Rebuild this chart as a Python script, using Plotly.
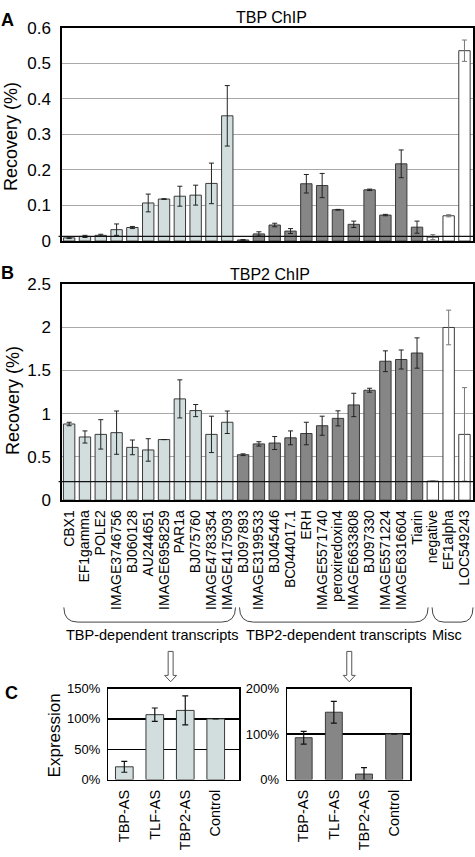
import plotly.graph_objects as go

# ---------------- data ----------------
tbp_dependent = ["CBX1", "EF1gamma", "POLE2", "IMAGE3746756", "BJ060128", "AU244651",
                 "IMAGE6958259", "PAR1a", "BJ075760", "IMAGE4783354", "IMAGE4175093"]
tbp2_dependent = ["BJ097893", "IMAGE3199533", "BJ045446", "BC044017.1", "ERH",
                  "IMAGE5571740", "peroxiredoxin4", "IMAGE6633808", "BJ097330",
                  "IMAGE5571224", "IMAGE6316604", "Tiarin"]
misc = ["negative", "EF1alpha", "LOC549243"]
categories = tbp_dependent + tbp2_dependent + misc

tbp_chip = [0.009, 0.013, 0.016, 0.032, 0.038, 0.107, 0.118, 0.126, 0.129, 0.162, 0.352,
            0.003, 0.020, 0.045, 0.028, 0.161, 0.156, 0.088, 0.047, 0.144, 0.073, 0.217, 0.039,
            0.011, 0.071, 0.535]
tbp_chip_err = [0.002, 0.003, 0.003, 0.016, 0.003, 0.025, 0.001, 0.028, 0.028, 0.057, 0.085,
                0.001, 0.006, 0.005, 0.007, 0.026, 0.034, 0.001, 0.009, 0.002, 0.002, 0.039, 0.017,
                0.007, 0.003, 0.030]
tbp_baseline = 0.013

tbp2_chip = [0.88, 0.73, 0.76, 0.78, 0.61, 0.58, 0.70, 1.17, 1.035, 0.76, 0.90,
             0.525, 0.65, 0.66, 0.72, 0.77, 0.86, 0.945, 1.10, 1.27, 1.605, 1.625, 1.70,
             0.22, 1.995, 0.76]
tbp2_chip_err = [0.02, 0.07, 0.17, 0.25, 0.085, 0.13, 0.0, 0.22, 0.07, 0.21, 0.13,
                 0.01, 0.025, 0.075, 0.08, 0.13, 0.11, 0.087, 0.135, 0.023, 0.12, 0.11, 0.175,
                 0.005, 0.20, 0.54]
tbp2_baseline = 0.215

knockdowns = ["TBP-AS", "TLF-AS", "TBP2-AS", "Control"]
expr_tbp_dep = [21, 107, 114, 100]
expr_tbp_dep_err = [9, 11, 24, 0]
expr_tbp2_dep = [92, 148, 12, 100]
expr_tbp2_dep_err = [14, 24, 14, 0]

# ---------------- styling ----------------
W, H = 475, 857
FONT = "Liberation Sans, Arial, sans-serif"
LIGHT = "#d2dede"
DARK = "#868686"
WHITE = "#ffffff"
EDGE = "#3a3a3a"

def px(x):
    return x / W

def py(y):
    return 1 - y / H

n1, n2 = len(tbp_dependent), len(tbp2_dependent)
groups = [
    (slice(0, n1), LIGHT, "#222222"),
    (slice(n1, n1 + n2), DARK, "#222222"),
    (slice(n1 + n2, None), WHITE, "#777777"),
]

fig = go.Figure()

for vals, errs, xa, ya in [(tbp_chip, tbp_chip_err, "x", "y"),
                           (tbp2_chip, tbp2_chip_err, "x2", "y2")]:
    for sl, col, ecol in groups:
        fig.add_trace(go.Bar(
            x=categories[sl], y=vals[sl], xaxis=xa, yaxis=ya,
            marker=dict(color=col, line=dict(color=EDGE, width=1)),
            width=0.72,
            error_y=dict(type="data", array=errs[sl], color=ecol, thickness=1, width=2.5),
            showlegend=False))

fig.add_trace(go.Bar(
    x=knockdowns, y=expr_tbp_dep, xaxis="x3", yaxis="y3", width=0.58,
    marker=dict(color=LIGHT, line=dict(color=EDGE, width=1)),
    error_y=dict(type="data", array=expr_tbp_dep_err, color="#111111", thickness=1.2, width=3),
    showlegend=False))
fig.add_trace(go.Bar(
    x=knockdowns, y=expr_tbp2_dep, xaxis="x4", yaxis="y4", width=0.56,
    marker=dict(color=DARK, line=dict(color=EDGE, width=1)),
    error_y=dict(type="data", array=expr_tbp2_dep_err, color="#111111", thickness=1.2, width=3),
    showlegend=False))

frame = dict(showline=True, linecolor="black", linewidth=1.5, mirror=True, zeroline=False)
tickf = dict(family=FONT, size=17, color="black")

xdomAB = [px(61), px(473)]
fig.update_layout(
    width=W, height=H, autosize=False,
    margin=dict(l=0, r=0, t=0, b=0),
    paper_bgcolor="white", plot_bgcolor="white",
    barmode="overlay",
    font=dict(family=FONT, color="black"),
    xaxis=dict(domain=xdomAB, anchor="y", range=[-0.46, 25.54], showticklabels=False,
               categoryorder="array", categoryarray=categories, showgrid=False, ticks="", **frame),
    yaxis=dict(domain=[py(237.3), py(19)], anchor="x", range=[0, 0.6], dtick=0.1,
               gridcolor="#a8a8a8", gridwidth=1, tickfont=tickf, ticklabelstandoff=6, **frame),
    xaxis2=dict(domain=xdomAB, anchor="y2", range=[-0.46, 25.54], tickangle=-90,
                tickmode="linear", tick0=0, dtick=1,
                categoryorder="array", categoryarray=categories, showgrid=False, ticks="",
                tickfont=dict(family=FONT, size=14, color="black"), ticklabelstandoff=3, **frame),
    yaxis2=dict(domain=[py(502.3), py(281)], anchor="x2", range=[0, 2.5], dtick=0.5,
                gridcolor="#a8a8a8", gridwidth=1, tickfont=tickf, ticklabelstandoff=6, **frame),
    xaxis3=dict(domain=[px(107.7), px(239)], anchor="y3", range=[-0.52, 3.78], tickangle=-90,
                showgrid=False, ticks="", tickfont=dict(family=FONT, size=14.5, color="black"),
                ticklabelstandoff=3, **frame),
    yaxis3=dict(domain=[py(788), py(695)], anchor="x3", range=[0, 150], dtick=50, ticksuffix="%",
                gridcolor="black", gridwidth=1.3, tickfont=dict(family=FONT, size=13, color="black"),
                ticklabelstandoff=4, **frame),
    xaxis4=dict(domain=[px(286.7), px(410)], anchor="y4", range=[-0.55, 3.53], tickangle=-90,
                showgrid=False, ticks="", tickfont=dict(family=FONT, size=14.5, color="black"),
                ticklabelstandoff=3, **frame),
    yaxis4=dict(domain=[py(788), py(695)], anchor="x4", range=[0, 200], dtick=100, ticksuffix="%",
                gridcolor="black", gridwidth=1.3, tickfont=dict(family=FONT, size=13, color="black"),
                ticklabelstandoff=4, **frame),
)

shapes = []
# baseline (negative-control level) lines
for yref, val in [("y", tbp_baseline), ("y2", tbp2_baseline)]:
    shapes.append(dict(type="line", xref="x domain", yref=yref, x0=-0.008, x1=1, y0=val, y1=val,
                       line=dict(color="#111111", width=1.3), layer="above"))

# braces below category labels
def brace(x0, x1, ytop=612, ybot=627, r=14):
    return (f"M {px(x0)} {py(ytop)} Q {px(x0)} {py(ybot)} {px(x0 + r)} {py(ybot)} "
            f"L {px(x1 - r)} {py(ybot)} Q {px(x1)} {py(ybot)} {px(x1)} {py(ytop)}")

for a, b, r in [(63, 235, 14), (239, 428, 14), (432, 473, 12)]:
    shapes.append(dict(type="path", xref="paper", yref="paper", path=brace(a, b, r=r),
                       line=dict(color="#444444", width=1)))

# hollow arrows
def arrow(c, top=657, neck=681.5, tip=688, sw=2.5, hw=6):
    pts = [(c - sw, top), (c + sw, top), (c + sw, neck), (c + hw, neck), (c, tip),
           (c - hw, neck), (c - sw, neck)]
    return "M " + " L ".join(f"{px(x)} {py(y)}" for x, y in pts) + " Z"

for c in [170, 349]:
    shapes.append(dict(type="path", xref="paper", yref="paper", path=arrow(c),
                       fillcolor="white", line=dict(color="#555555", width=1)))
fig.update_layout(shapes=shapes)

ann = []
def text(x, y, s, size, bold=False, angle=0, xanchor="center"):
    ann.append(dict(x=px(x), y=py(y), xref="paper", yref="paper", text=f"<b>{s}</b>" if bold else s,
                    showarrow=False, xanchor=xanchor, yanchor="middle", textangle=angle,
                    font=dict(family=FONT, size=size, color="black")))

text(7, 11, "A", 18, bold=True)
text(7, 270, "B", 18, bold=True)
text(11, 700, "C", 18, bold=True)
text(271, 9, "TBP ChIP", 16)
text(270, 272, "TBP2 ChIP", 16)
text(10, 130, "Recovery (%)", 18, angle=-90)
text(12, 400, "Recovery (%)", 18, angle=-90)
text(54, 743, "Expression", 17, angle=-90)
text(151, 640, "TBP-dependent transcripts", 14.5)
text(336, 640, "TBP2-dependent transcripts", 14.5)
text(447, 640, "Misc", 14.5)
fig.update_layout(annotations=ann)

fig.write_html("out.html",
               config={"displayModeBar": False, "staticPlot": True},
               post_script="document.body.style.margin='0px';document.body.style.padding='0px';")
